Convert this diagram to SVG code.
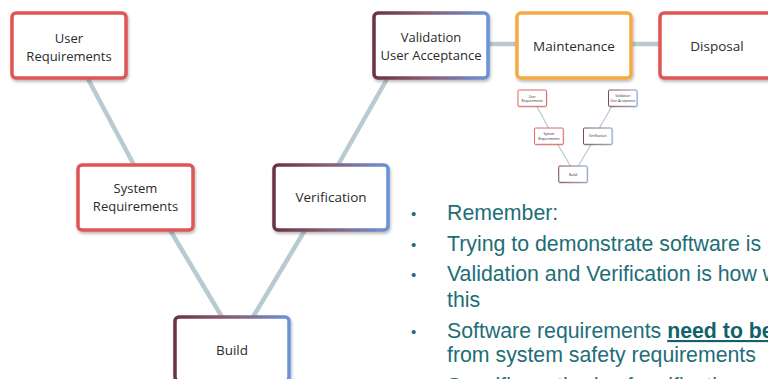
<svg xmlns="http://www.w3.org/2000/svg" width="768" height="379" viewBox="0 0 768 379">
  <defs>
    <linearGradient id="gradMix" x1="0" y1="0" x2="1" y2="0">
      <stop offset="0" stop-color="#6b3345"/>
      <stop offset="0.45" stop-color="#8a5a70"/>
      <stop offset="1" stop-color="#6a92d8"/>
    </linearGradient>
    <filter id="shadow" x="-10%" y="-10%" width="125%" height="130%">
      <feDropShadow dx="1" dy="2" stdDeviation="1.6" flood-color="#000" flood-opacity="0.28"/>
    </filter>
  </defs>
  <style>
    .box { fill: #fff; stroke-width: 3.5; filter: url(#shadow); }
    .red { stroke: #de5656; }
    .orange { stroke: #f6aa45; }
    .mix { stroke: url(#gradMix); }
    .lbl { font-family: "Open Sans", "Liberation Sans", sans-serif; font-size: 13px; fill: #2b2b2b; text-anchor: middle; }
    .lbl1 { font-size: 13.5px; }
    .link { stroke: #b9cad3; stroke-width: 4.5; fill: none; }
    .mlink { stroke: #b9cad3; stroke-width: 5; fill: none; }
    .bul { font-family: "Liberation Sans", Arial, sans-serif; font-size: 21.3px; fill: #1e6e78; }
    .dot { font-family: "Liberation Sans", Arial, sans-serif; font-size: 15px; fill: #1e6e78; }
    .em { font-weight: bold; text-decoration: underline; fill: #12626c; }
  </style>

  <rect width="768" height="379" fill="#fff"/>

  <!-- connectors of the V-model -->
  <g id="connectors">
    <line class="link" x1="88" y1="79" x2="134" y2="165"/>
    <line class="link" x1="170" y1="230" x2="222" y2="317"/>
    <line class="link" x1="253" y1="317" x2="305" y2="230"/>
    <line class="link" x1="338" y1="165" x2="387" y2="79"/>
    <line class="link" x1="489" y1="44" x2="517" y2="44"/>
    <line class="link" x1="631" y1="44" x2="660" y2="44"/>
  </g>

  <g id="user-requirements">
    <rect class="box red" x="12" y="13" width="114" height="65" rx="4"/>
    <text class="lbl" x="69" y="43">User</text>
    <text class="lbl" x="69" y="61">Requirements</text>
  </g>

  <g id="system-requirements">
    <rect class="box red" x="78" y="165" width="115" height="65" rx="4"/>
    <text class="lbl" x="135.5" y="193">System</text>
    <text class="lbl" x="135.5" y="211">Requirements</text>
  </g>

  <g id="build">
    <rect class="box mix" x="175" y="317" width="114" height="64" rx="4"/>
    <text class="lbl lbl1" x="232" y="355">Build</text>
  </g>

  <g id="verification">
    <rect class="box mix" x="274" y="165" width="114" height="65" rx="4"/>
    <text class="lbl lbl1" x="331" y="202">Verification</text>
  </g>

  <g id="validation">
    <rect class="box mix" x="374" y="13" width="114" height="65" rx="4"/>
    <text class="lbl" x="431" y="42">Validation</text>
    <text class="lbl" x="431" y="60">User Acceptance</text>
  </g>

  <g id="maintenance">
    <rect class="box orange" x="517" y="13" width="114" height="65" rx="4"/>
    <text class="lbl lbl1" x="574" y="51">Maintenance</text>
  </g>

  <g id="disposal">
    <rect class="box red" x="660" y="13" width="114" height="65" rx="4"/>
    <text class="lbl lbl1" x="717" y="51">Disposal</text>
  </g>

  <!-- small overview copy of the V -->
  <g id="overview" transform="translate(515 86.8) scale(0.25)">
    <line class="mlink" x1="88" y1="79" x2="134" y2="165"/>
    <line class="mlink" x1="170" y1="230" x2="222" y2="317"/>
    <line class="mlink" x1="253" y1="317" x2="305" y2="230"/>
    <line class="mlink" x1="338" y1="165" x2="387" y2="79"/>
    <rect class="box red" x="12" y="13" width="114" height="65" rx="4"/>
    <text class="lbl" x="69" y="43">User</text>
    <text class="lbl" x="69" y="61">Requirements</text>
    <rect class="box red" x="78" y="165" width="115" height="65" rx="4"/>
    <text class="lbl" x="135.5" y="193">System</text>
    <text class="lbl" x="135.5" y="211">Requirements</text>
    <rect class="box mix" x="175" y="317" width="114" height="65" rx="4"/>
    <text class="lbl lbl1" x="232" y="355">Build</text>
    <rect class="box mix" x="274" y="165" width="114" height="65" rx="4"/>
    <text class="lbl lbl1" x="331" y="202">Verification</text>
    <rect class="box mix" x="374" y="13" width="114" height="65" rx="4"/>
    <text class="lbl" x="431" y="42">Validation</text>
    <text class="lbl" x="431" y="60">User Acceptance</text>
  </g>

  <!-- bullet list -->
  <g id="notes">
    <text class="dot" x="411" y="219">•</text>
    <text class="bul" x="447" y="220">Remember:</text>
    <text class="dot" x="411" y="250">•</text>
    <text class="bul" x="447" y="251">Trying to demonstrate software is</text>
    <text class="dot" x="411" y="280">•</text>
    <text class="bul" x="447" y="281">Validation and Verification is how we</text>
    <text class="bul" x="447" y="307">this</text>
    <text class="dot" x="411" y="337">•</text>
    <text class="bul" x="447" y="338">Software requirements <tspan class="em">need to be</tspan></text>
    <text class="bul" x="447" y="362">from system safety requirements</text>
    <text class="bul" x="447" y="393">Specific methods of verification</text>
  </g>
</svg>
